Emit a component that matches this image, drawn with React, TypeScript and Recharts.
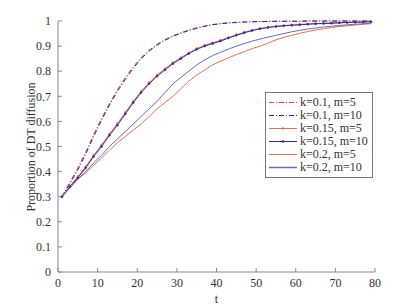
import React from 'react';
import { LineChart, Line, XAxis, YAxis, Label } from 'recharts';

// time steps
const T = [1, 3, 5, 7, 9, 11, 13, 15, 17, 19, 21, 23, 25, 27, 29, 31, 33, 35, 37, 39,
  41, 43, 45, 47, 49, 51, 53, 55, 57, 59, 61, 63, 65, 67, 69, 71, 73, 75, 77, 79];

const K01_M5 = [0.30, 0.357, 0.415, 0.478, 0.548, 0.612, 0.672, 0.726, 0.775, 0.818, 0.855, 0.884, 0.907, 0.926, 0.941, 0.953, 0.964, 0.973, 0.98, 0.986,
  0.99, 0.993, 0.995, 0.996, 0.997, 0.998, 0.998, 0.999, 0.999, 0.999, 0.999, 1, 1, 1, 1, 1, 1, 1, 1, 1];
const K01_M10 = [0.30, 0.352, 0.407, 0.47, 0.54, 0.605, 0.665, 0.72, 0.768, 0.812, 0.85, 0.88, 0.904, 0.923, 0.939, 0.951, 0.962, 0.971, 0.979, 0.985,
  0.989, 0.992, 0.994, 0.996, 0.997, 0.998, 0.998, 0.999, 0.999, 0.999, 0.999, 1, 1, 1, 1, 1, 1, 1, 1, 1];
const K015_M5 = [0.30, 0.342, 0.38, 0.42, 0.465, 0.506, 0.55, 0.592, 0.636, 0.68, 0.72, 0.755, 0.785, 0.81, 0.834, 0.854, 0.873, 0.89, 0.903, 0.913,
  0.923, 0.934, 0.945, 0.955, 0.963, 0.97, 0.975, 0.979, 0.982, 0.984, 0.986, 0.988, 0.99, 0.991, 0.992, 0.993, 0.994, 0.995, 0.996, 0.997];
const K015_M10 = [0.30, 0.34, 0.375, 0.415, 0.46, 0.50, 0.545, 0.585, 0.63, 0.675, 0.715, 0.75, 0.78, 0.805, 0.83, 0.85, 0.87, 0.887, 0.90, 0.91,
  0.92, 0.932, 0.943, 0.953, 0.962, 0.969, 0.974, 0.978, 0.981, 0.983, 0.985, 0.987, 0.989, 0.99, 0.991, 0.993, 0.994, 0.995, 0.996, 0.997];
const K02_M5 = [0.30, 0.335, 0.37, 0.395, 0.425, 0.455, 0.485, 0.515, 0.54, 0.565, 0.59, 0.62, 0.65, 0.675, 0.70, 0.73, 0.76, 0.785, 0.805, 0.825,
  0.84, 0.853, 0.866, 0.878, 0.89, 0.90, 0.912, 0.925, 0.935, 0.943, 0.951, 0.958, 0.964, 0.969, 0.974, 0.978, 0.981, 0.984, 0.987, 0.989];
const K02_M10 = [0.30, 0.335, 0.37, 0.40, 0.435, 0.465, 0.50, 0.53, 0.56, 0.59, 0.62, 0.65, 0.68, 0.715, 0.75, 0.775, 0.80, 0.825, 0.845, 0.862,
  0.875, 0.888, 0.90, 0.91, 0.92, 0.928, 0.936, 0.943, 0.95, 0.957, 0.963, 0.968, 0.972, 0.976, 0.979, 0.982, 0.985, 0.987, 0.989, 0.991];

const X_TICKS = [0, 10, 20, 30, 40, 50, 60, 70, 80];
const Y_TICKS = [0, 0.1, 0.2, 0.3, 0.4, 0.5, 0.6, 0.7, 0.8, 0.9, 1];

const data = T.map((t, i) => ({
  t,
  a: K01_M5[i],
  b: K01_M10[i],
  c: K015_M5[i],
  d: K015_M10[i],
  e: K02_M5[i],
  f: K02_M10[i],
}));

const RED = '#d04848';
const BLUE = '#2c2c8c';
const SALMON = '#d9735e';
const GREYBLUE = '#6a6eaa';
const FRAME = '#8a8a8a';
const TEXT = '#333';
const FONT = 'Liberation Serif, Times New Roman, DejaVu Serif, serif';

const SERIES = [
  { key: 'a', name: 'k=0.1, m=5', color: RED, dash: '5 2 1 2', dot: false },
  { key: 'b', name: 'k=0.1, m=10', color: BLUE, dash: '5 2 1 2', dot: false },
  { key: 'c', name: 'k=0.15, m=5', color: SALMON, dash: undefined, dot: true },
  { key: 'd', name: 'k=0.15, m=10', color: BLUE, dash: undefined, dot: true },
  { key: 'e', name: 'k=0.2, m=5', color: SALMON, dash: undefined, dot: false },
  { key: 'f', name: 'k=0.2, m=10', color: GREYBLUE, dash: undefined, dot: false },
];

// legend box drawn over the plot, same place as the matlab one
function LegendBox() {
  return (
    <div style={{ position: 'absolute', left: 265, top: 92, width: 106, border: '1px solid #777', background: '#fff',
      padding: '3px 0', fontFamily: FONT, fontSize: 12, color: TEXT, lineHeight: '13px' }}>
      {SERIES.map(s => (
        <div key={s.key} style={{ display: 'flex', alignItems: 'center', height: 13 }}>
          <svg width={34} height={13} style={{ flex: 'none' }}>
            <line x1={3} x2={31} y1={6.5} y2={6.5} stroke={s.color} strokeWidth={s.key === 'f' ? 1.5 : 1} strokeDasharray={s.dash} />
            {s.dot && <circle cx={17} cy={6.5} r={1.2} fill={s.color} />}
          </svg>
          <span style={{ whiteSpace: 'nowrap' }}>{s.name}</span>
        </div>
      ))}
    </div>
  );
}

// rotated y title, centred on the plot height
const YTitle = () => (
  <text x={31} y={147} transform="rotate(-90 31 147)" textAnchor="middle" dominantBaseline="central"
    fill={TEXT} fontSize={12} fontFamily={FONT}>
    Proportion of DT diffusion
  </text>
);

export default function App() {
  const tickStyle = { fill: TEXT, fontSize: 12, fontFamily: FONT };
  return (
    <div style={{ position: 'absolute', left: 0, top: 0, width: 404, height: 305, background: '#fff', fontFamily: FONT }}>
      <LineChart width={404} height={305} data={data} margin={{ top: 21, right: 29, bottom: 0, left: 0 }}
        style={{ fontFamily: FONT }}>
        <XAxis dataKey="t" type="number" domain={[0, 80]} ticks={X_TICKS} height={33}
          stroke={FRAME} tickSize={-4} tickMargin={10.5} tick={tickStyle} interval={0}>
          <Label value="t" position="insideBottom" offset={2} style={{ fill: TEXT, fontSize: 12, fontFamily: FONT }} />
        </XAxis>
        <XAxis xAxisId="top" orientation="top" type="number" domain={[0, 80]} ticks={X_TICKS} height={0}
          stroke={FRAME} tickSize={-4} tickFormatter={() => ''} interval={0} />
        <YAxis type="number" domain={[0, 1]} ticks={Y_TICKS} width={58} interval={0}
          stroke={FRAME} tickSize={-4} tickMargin={11} tick={tickStyle}
          tickFormatter={(v: number) => (v === 0 || v === 1 ? String(v) : v.toFixed(1))}>
          <Label content={YTitle} />
        </YAxis>
        <YAxis yAxisId="right" orientation="right" type="number" domain={[0, 1]} ticks={Y_TICKS} width={0} interval={0}
          stroke={FRAME} tickSize={-4} tickFormatter={() => ''} />
        {SERIES.map(s => (
          <Line key={s.key} dataKey={s.key} name={s.name} type="linear" stroke={s.color} strokeWidth={1}
            strokeDasharray={s.dash} isAnimationActive={false}
            dot={s.dot ? { r: 1, fill: s.color, stroke: s.color, strokeWidth: 0.5 } : false} activeDot={false} />
        ))}
      </LineChart>
      <LegendBox />
    </div>
  );
}
